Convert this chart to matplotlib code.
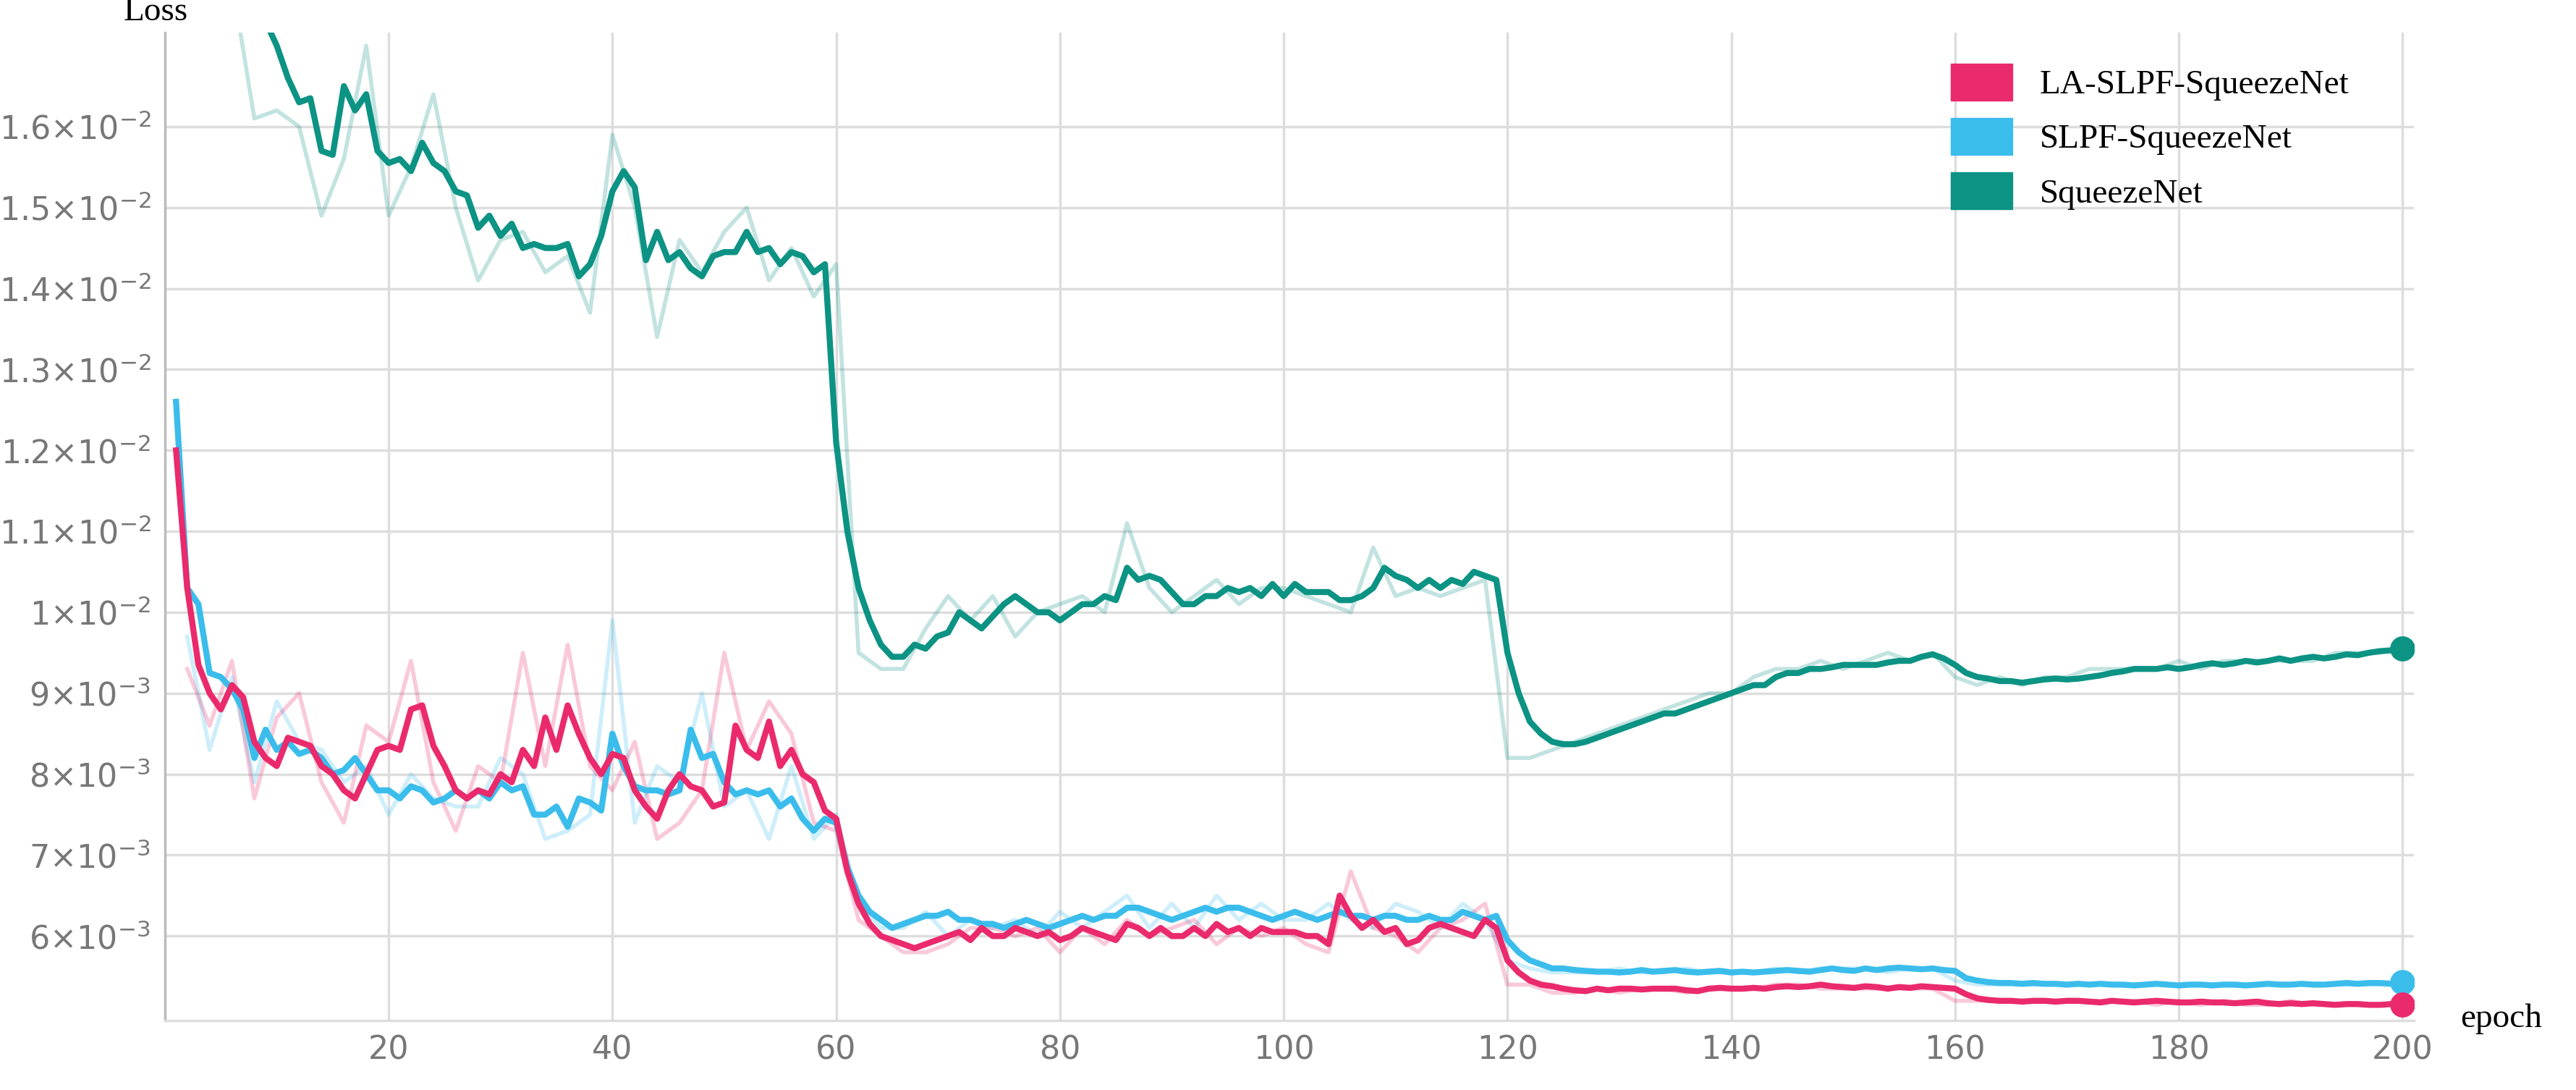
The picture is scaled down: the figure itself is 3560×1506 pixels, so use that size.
import numpy as np
import matplotlib.pyplot as plt
from matplotlib.patches import Patch

epochs = np.arange(1, 201)

# smoothed curves (x1e-2), one value per epoch
green_s = [1.78, 1.78, 1.78, 1.78, 1.78, 1.78, 1.78, 1.76, 1.73, 1.70,
           1.66, 1.63, 1.635, 1.57, 1.565, 1.65, 1.62, 1.64, 1.57, 1.555,
           1.56, 1.545, 1.58, 1.555, 1.545, 1.52, 1.515, 1.475, 1.49, 1.465,
           1.48, 1.45, 1.455, 1.45, 1.45, 1.455, 1.415, 1.43, 1.465, 1.52,
           1.545, 1.525, 1.435, 1.47, 1.435, 1.445, 1.425, 1.415, 1.44, 1.445,
           1.445, 1.47, 1.445, 1.45, 1.43, 1.445, 1.44, 1.42, 1.43, 1.21,
           1.10, 1.03, 0.99, 0.96, 0.945, 0.945, 0.96, 0.955, 0.97, 0.975,
           1.00, 0.99, 0.98, 0.995, 1.01, 1.02, 1.01, 1.00, 1.00, 0.99,
           1.00, 1.01, 1.01, 1.02, 1.015, 1.055, 1.04, 1.045, 1.04, 1.025,
           1.01, 1.01, 1.02, 1.02, 1.03, 1.025, 1.03, 1.02, 1.035, 1.02,
           1.035, 1.025, 1.025, 1.025, 1.015, 1.015, 1.02, 1.03, 1.055, 1.045,
           1.04, 1.03, 1.04, 1.03, 1.04, 1.035, 1.05, 1.045, 1.04, 0.95,
           0.90, 0.865, 0.85, 0.84, 0.837, 0.837, 0.84, 0.845, 0.85, 0.855,
           0.86, 0.865, 0.87, 0.875, 0.875, 0.88, 0.885, 0.89, 0.895, 0.90,
           0.905, 0.91, 0.91, 0.92, 0.925, 0.925, 0.93, 0.93, 0.932, 0.935,
           0.935, 0.935, 0.935, 0.938, 0.94, 0.94, 0.945, 0.948, 0.943, 0.935,
           0.925, 0.92, 0.918, 0.915, 0.915, 0.913, 0.915, 0.917, 0.918, 0.917,
           0.918, 0.92, 0.922, 0.925, 0.927, 0.93, 0.93, 0.93, 0.932, 0.93,
           0.932, 0.935, 0.937, 0.935, 0.937, 0.94, 0.938, 0.94, 0.943, 0.94,
           0.943, 0.945, 0.943, 0.945, 0.948, 0.947, 0.95, 0.952, 0.953, 0.955]

pink_s = [1.20, 1.03, 0.935, 0.90, 0.88, 0.91, 0.895, 0.84, 0.82, 0.81,
          0.845, 0.84, 0.835, 0.81, 0.80, 0.78, 0.77, 0.80, 0.83, 0.835,
          0.83, 0.88, 0.885, 0.835, 0.81, 0.78, 0.77, 0.78, 0.775, 0.80,
          0.79, 0.83, 0.81, 0.87, 0.83, 0.885, 0.85, 0.82, 0.80, 0.825,
          0.82, 0.78, 0.76, 0.745, 0.78, 0.80, 0.785, 0.78, 0.76, 0.765,
          0.86, 0.83, 0.82, 0.865, 0.81, 0.83, 0.80, 0.79, 0.755, 0.745,
          0.68, 0.64, 0.615, 0.60, 0.595, 0.59, 0.585, 0.59, 0.595, 0.60,
          0.605, 0.595, 0.61, 0.60, 0.60, 0.61, 0.605, 0.60, 0.605, 0.595,
          0.60, 0.61, 0.605, 0.60, 0.595, 0.615, 0.61, 0.60, 0.61, 0.60,
          0.60, 0.61, 0.60, 0.615, 0.605, 0.61, 0.60, 0.61, 0.605, 0.605,
          0.605, 0.60, 0.60, 0.59, 0.65, 0.625, 0.61, 0.62, 0.605, 0.61,
          0.59, 0.595, 0.61, 0.615, 0.61, 0.605, 0.60, 0.62, 0.61, 0.57,
          0.555, 0.545, 0.54, 0.538, 0.535, 0.533, 0.532, 0.535, 0.533, 0.535,
          0.535, 0.534, 0.535, 0.535, 0.535, 0.533, 0.532, 0.535, 0.536, 0.535,
          0.535, 0.536, 0.535, 0.537, 0.538, 0.537, 0.538, 0.54, 0.538, 0.537,
          0.536, 0.538, 0.537, 0.535, 0.537, 0.536, 0.538, 0.537, 0.536, 0.535,
          0.528, 0.523, 0.521, 0.52, 0.52, 0.519, 0.52, 0.52, 0.519, 0.52,
          0.52, 0.519, 0.518, 0.52, 0.519, 0.518, 0.519, 0.52, 0.519, 0.518,
          0.518, 0.519, 0.518, 0.518, 0.517, 0.518, 0.519, 0.517, 0.516, 0.517,
          0.516, 0.517, 0.516, 0.515, 0.516, 0.516, 0.515, 0.515, 0.516, 0.515]

blue_s = [1.26, 1.03, 1.01, 0.925, 0.92, 0.905, 0.88, 0.82, 0.855, 0.83,
          0.84, 0.825, 0.83, 0.82, 0.80, 0.805, 0.82, 0.80, 0.78, 0.78,
          0.77, 0.785, 0.78, 0.765, 0.77, 0.78, 0.77, 0.78, 0.77, 0.79,
          0.78, 0.785, 0.75, 0.75, 0.76, 0.735, 0.77, 0.765, 0.755, 0.85,
          0.81, 0.785, 0.78, 0.78, 0.775, 0.78, 0.855, 0.82, 0.825, 0.79,
          0.775, 0.78, 0.775, 0.78, 0.76, 0.77, 0.745, 0.73, 0.745, 0.74,
          0.685, 0.65, 0.63, 0.62, 0.61, 0.615, 0.62, 0.625, 0.625, 0.63,
          0.62, 0.62, 0.615, 0.615, 0.61, 0.615, 0.62, 0.615, 0.61, 0.615,
          0.62, 0.625, 0.62, 0.625, 0.625, 0.635, 0.635, 0.63, 0.625, 0.62,
          0.625, 0.63, 0.635, 0.63, 0.635, 0.635, 0.63, 0.625, 0.62, 0.625,
          0.63, 0.625, 0.62, 0.625, 0.63, 0.625, 0.625, 0.62, 0.625, 0.625,
          0.62, 0.62, 0.625, 0.62, 0.62, 0.63, 0.625, 0.62, 0.625, 0.595,
          0.58, 0.57, 0.565, 0.56, 0.56, 0.558, 0.557, 0.556, 0.556, 0.555,
          0.556, 0.558, 0.556, 0.557, 0.558, 0.556, 0.555, 0.556, 0.557, 0.555,
          0.556, 0.555, 0.556, 0.557, 0.558, 0.557, 0.556, 0.558, 0.56, 0.558,
          0.557, 0.56, 0.558, 0.56, 0.561, 0.56, 0.559, 0.56, 0.558, 0.557,
          0.548, 0.545, 0.543, 0.542, 0.542, 0.541, 0.542, 0.541, 0.541, 0.54,
          0.541, 0.54, 0.541, 0.54, 0.54, 0.539, 0.54, 0.541, 0.54, 0.539,
          0.54, 0.54, 0.539, 0.54, 0.54, 0.539, 0.54, 0.541, 0.54, 0.54,
          0.541, 0.54, 0.54, 0.541, 0.542, 0.541, 0.542, 0.542, 0.541, 0.543]

# raw curves (x1e-2), every second epoch
raw_epochs = np.arange(2, 201, 2)
green_r = [1.78, 1.78, 1.78, 1.61, 1.62, 1.60, 1.49, 1.56, 1.70, 1.49,
           1.55, 1.64, 1.50, 1.41, 1.46, 1.47, 1.42, 1.44, 1.37, 1.59,
           1.50, 1.34, 1.46, 1.42, 1.47, 1.50, 1.41, 1.45, 1.39, 1.43,
           0.95, 0.93, 0.93, 0.98, 1.02, 0.99, 1.02, 0.97, 1.00, 1.01,
           1.02, 1.00, 1.11, 1.03, 1.00, 1.02, 1.04, 1.01, 1.03, 1.03,
           1.02, 1.01, 1.00, 1.08, 1.02, 1.03, 1.02, 1.03, 1.04, 0.82,
           0.82, 0.83, 0.84, 0.85, 0.86, 0.87, 0.88, 0.89, 0.90, 0.90,
           0.92, 0.93, 0.93, 0.94, 0.93, 0.94, 0.95, 0.94, 0.95, 0.92,
           0.91, 0.92, 0.91, 0.92, 0.92, 0.93, 0.93, 0.93, 0.93, 0.94,
           0.93, 0.94, 0.94, 0.94, 0.94, 0.94, 0.95, 0.95, 0.95, 0.955]
pink_r = [0.93, 0.86, 0.94, 0.77, 0.87, 0.90, 0.79, 0.74, 0.86, 0.84,
          0.94, 0.79, 0.73, 0.81, 0.79, 0.95, 0.81, 0.96, 0.81, 0.78,
          0.84, 0.72, 0.74, 0.78, 0.95, 0.83, 0.89, 0.85, 0.74, 0.73,
          0.62, 0.60, 0.58, 0.58, 0.59, 0.61, 0.61, 0.60, 0.61, 0.58,
          0.61, 0.59, 0.62, 0.60, 0.61, 0.62, 0.59, 0.61, 0.60, 0.61,
          0.59, 0.58, 0.68, 0.61, 0.60, 0.58, 0.61, 0.62, 0.64, 0.54,
          0.54, 0.53, 0.53, 0.535, 0.53, 0.535, 0.535, 0.53, 0.535, 0.535,
          0.535, 0.54, 0.54, 0.535, 0.535, 0.535, 0.535, 0.535, 0.535, 0.52,
          0.52, 0.52, 0.52, 0.52, 0.52, 0.52, 0.52, 0.52, 0.515, 0.52,
          0.515, 0.52, 0.515, 0.515, 0.52, 0.515, 0.515, 0.515, 0.515, 0.515]
blue_r = [0.97, 0.83, 0.92, 0.79, 0.89, 0.84, 0.83, 0.79, 0.81, 0.75,
          0.80, 0.77, 0.76, 0.76, 0.82, 0.80, 0.72, 0.73, 0.75, 0.99,
          0.74, 0.81, 0.79, 0.90, 0.76, 0.78, 0.72, 0.81, 0.72, 0.75,
          0.64, 0.61, 0.61, 0.63, 0.60, 0.62, 0.61, 0.62, 0.60, 0.63,
          0.61, 0.63, 0.65, 0.61, 0.64, 0.61, 0.65, 0.62, 0.64, 0.62,
          0.62, 0.64, 0.62, 0.61, 0.64, 0.63, 0.61, 0.64, 0.62, 0.57,
          0.56, 0.555, 0.555, 0.555, 0.56, 0.555, 0.555, 0.56, 0.555, 0.555,
          0.555, 0.56, 0.555, 0.56, 0.56, 0.56, 0.555, 0.56, 0.56, 0.545,
          0.54, 0.54, 0.54, 0.54, 0.54, 0.54, 0.54, 0.54, 0.54, 0.54,
          0.54, 0.54, 0.54, 0.54, 0.54, 0.54, 0.54, 0.54, 0.54, 0.54]

series = [
    ('SqueezeNet', green_s, green_r, '#0c9384'),
    ('SLPF-SqueezeNet', blue_s, blue_r, '#3bbdec'),
    ('LA-SLPF-SqueezeNet', pink_s, pink_r, '#ea2a6c'),
]

fig = plt.figure(figsize=(35.6, 15.06), dpi=100)
ax = fig.add_axes([0.064, 0.064, 0.873, 0.906])

for name, s, r, c in series:
    ax.plot(raw_epochs, np.array(r) * 1e-2, color=c, alpha=0.25, lw=4)
for name, s, r, c in series:
    ax.plot(epochs, np.array(s) * 1e-2, color=c, lw=6)
    ax.plot(epochs[-1], s[-1] * 1e-2, 'o', color=c, ms=24)

ax.set_xlim(0, 201)
ax.set_ylim(4.96e-3, 1.716e-2)
ax.set_xticks(range(20, 201, 20))
yt = [6e-3, 7e-3, 8e-3, 9e-3, 1e-2, 1.1e-2, 1.2e-2, 1.3e-2, 1.4e-2, 1.5e-2, 1.6e-2]
ylab = [r'6$\times$10$^{-3}$', r'7$\times$10$^{-3}$', r'8$\times$10$^{-3}$', r'9$\times$10$^{-3}$',
        r'1$\times$10$^{-2}$', r'1.1$\times$10$^{-2}$', r'1.2$\times$10$^{-2}$', r'1.3$\times$10$^{-2}$',
        r'1.4$\times$10$^{-2}$', r'1.5$\times$10$^{-2}$', r'1.6$\times$10$^{-2}$']
ax.set_yticks(yt)
ax.set_yticklabels(ylab)
ax.tick_params(labelsize=32, colors='#777777', length=0, pad=14)
ax.grid(color='#dddddd', lw=2.5)
for sp in ['top', 'right']:
    ax.spines[sp].set_visible(False)
ax.spines['left'].set_color('#bbbbbb')
ax.spines['bottom'].set_color('#dddddd')
ax.spines['left'].set_linewidth(2.5)
ax.spines['bottom'].set_linewidth(2.5)

fig.text(0.048, 0.975, 'Loss', fontsize=34, family='Liberation Serif', va='bottom')
fig.text(0.955, 0.065, 'epoch', fontsize=34, family='Liberation Serif', va='center')

handles = [Patch(color=c, label=n) for n, s, r, c in series[::-1]]
ax.legend(handles=handles, loc='upper right', bbox_to_anchor=(0.985, 1.0), frameon=False,
          prop={'family': 'Liberation Serif', 'size': 34}, handlelength=1.8, handleheight=1.3,
          labelspacing=0.5)

fig.savefig('out.png')
